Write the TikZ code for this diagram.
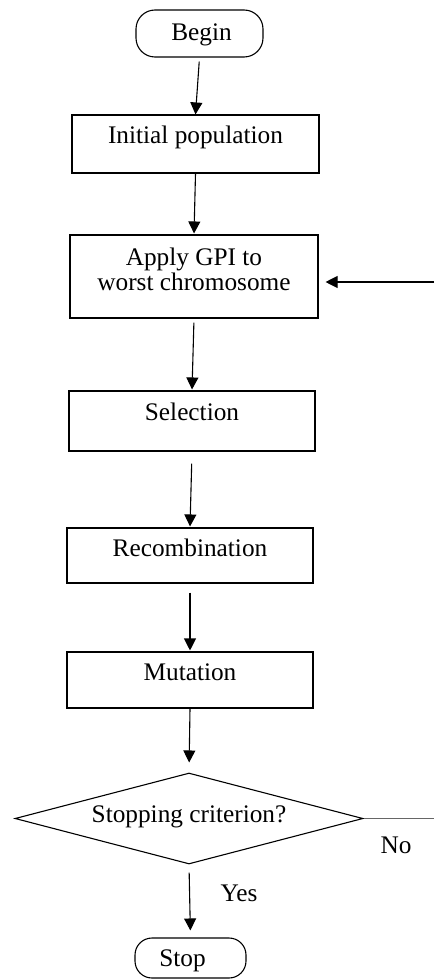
\documentclass[tikz,border=0pt]{standalone}
\usepackage{fontspec}
\setmainfont{Liberation Serif}
\usetikzlibrary{shapes.geometric,arrows.meta}
\begin{document}
\begin{tikzpicture}[x=1pt,y=-1pt,
  box/.style={draw, rectangle, line width=1.1pt, inner sep=0pt},
  term/.style={draw, rectangle, line width=1.1pt, inner sep=0pt, rounded corners=19pt},
  lbl/.style={font=\fontsize{25.3}{25}\selectfont, inner sep=0pt, align=center},
  arr/.style={-{Triangle[length=12pt,width=12pt]}, line width=1.1pt}]
\useasboundingbox (0,0) rectangle (434,979);
% terminals and boxes
\node[term, minimum width=127pt, minimum height=47pt] (begin) at (199.5,33.5) {};
\node[lbl] (beginT) at ([xshift=2pt,yshift=-1pt]begin.center) {Begin};
\node[box, minimum width=247pt, minimum height=58pt] (init) at (195.5,144) {};
\node[lbl] (initT) at ([yshift=7pt]init.center) {Initial population};
\node[box, minimum width=248pt, minimum height=83pt] (apply) at (194,276.5) {};
\node[lbl] (applyT) at ([yshift=7pt]apply.center) {Apply GPI to\\worst chromosome};
\node[box, minimum width=246pt, minimum height=60pt] (sel) at (192,421) {};
\node[lbl] (selT) at ([yshift=9pt]sel.center) {Selection};
\node[box, minimum width=246pt, minimum height=55pt] (rec) at (190,555.5) {};
\node[lbl] (recT) at ([yshift=7.5pt]rec.center) {Recombination};
\node[box, minimum width=246pt, minimum height=56pt] (mut) at (190,680) {};
\node[lbl] (mutT) at ([yshift=8pt]mut.center) {Mutation};
\node[draw, diamond, line width=1.1pt, inner sep=0pt, minimum width=348pt, minimum height=91pt] (dec) at (189,818.5) {};
\node[lbl] (decT) at ([yshift=1.5pt]dec.center) {Stopping criterion?};
\node[term, minimum width=111pt, minimum height=40pt, rounded corners=17pt] (stop) at (190.5,958) {};
\node[lbl] (stopT) at ([xshift=-8pt,yshift=-3pt]stop.center) {Stop};
% labels
\node[lbl] (no) at (396,845) {No};
\node[lbl] (yes) at (239,893) {Yes};
% free ends of the loop
\coordinate (noEnd) at (434,818.5);
\coordinate (loopIn) at (434,282);
% connectors
\draw[arr, shorten <=4pt] (begin.south) -- (init.north);
\draw[arr, shorten >=1pt] (init.south) -- (apply.north);
\draw[arr, shorten <=4pt, shorten >=1pt] (apply.south) -- (sel.north);
\draw[arr, shorten <=12pt, shorten >=1pt] (sel.south) -- (rec.north);
\draw[arr, shorten <=9pt, shorten >=1pt] (rec.south) -- (mut.north);
\draw[arr, shorten >=10pt] (mut.south) -- (dec.north);
\draw[arr, shorten <=8pt, shorten >=7pt] (dec.south) -- (stop.north);
\draw[line width=1.3pt, black!60] (dec.east) -- (noEnd);
\draw[arr, shorten >=7pt] (loopIn) -- (apply.east |- loopIn);
\end{tikzpicture}
\end{document}
